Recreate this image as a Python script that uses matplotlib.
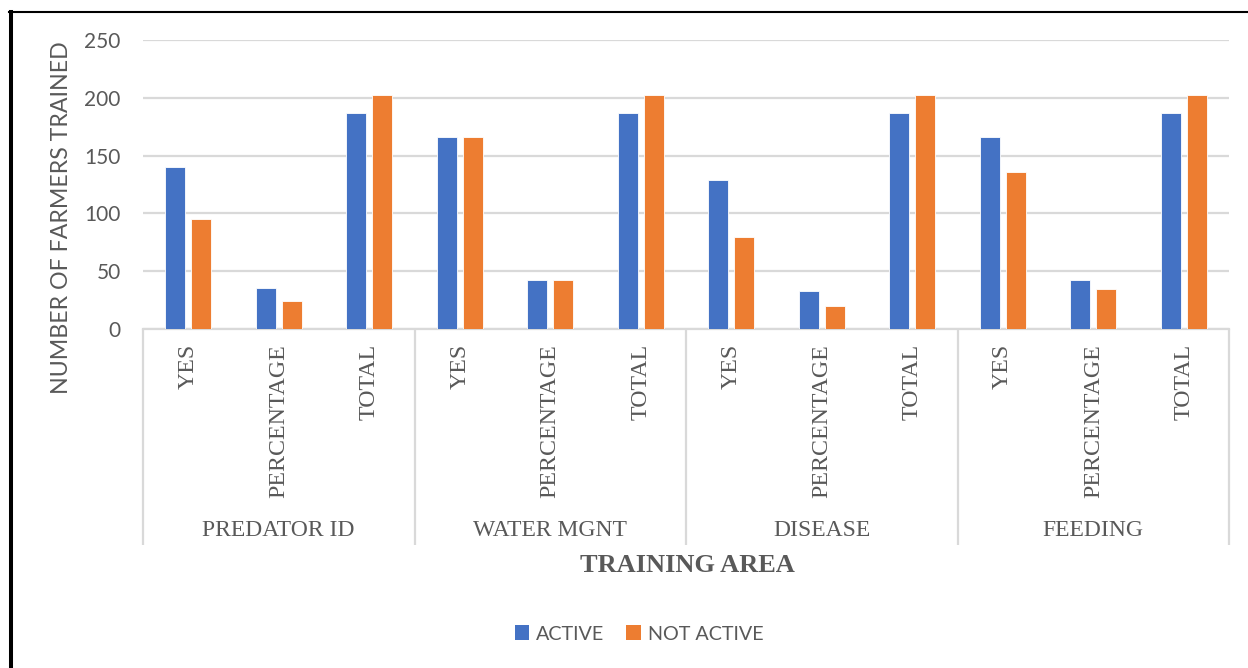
import numpy as np
import matplotlib
matplotlib.use("Agg")
import matplotlib.pyplot as plt
from matplotlib.lines import Line2D
from matplotlib.patches import Patch

areas = ["PREDATOR ID", "WATER MGNT", "DISEASE", "FEEDING"]
items = ["YES", "PERCENTAGE", "TOTAL"]
active = [140, 35.4, 187, 166, 42.0, 187, 129, 32.7, 187, 166, 42.0, 187]
not_active = [95, 24.0, 202, 166, 42.0, 202, 80, 20.3, 202, 136, 34.4, 202]

BLUE = "#4472C4"
ORANGE = "#ED7D31"
GRID = "#D9D9D9"
TEXT = "#595959"

W, H = 1248, 668
fig = plt.figure(figsize=(W / 100, H / 100), dpi=100)

# plot box in pixel terms
left, right, top, base = 143, 1229, 40, 329
ax = fig.add_axes([left / W, 1 - base / H, (right - left) / W, (base - top) / H])

n = len(active)
x = np.arange(n)
bw = 0.222
off = 0.143
ax.bar(x - off, active, bw, color=BLUE, edgecolor="white", linewidth=0.6, label="ACTIVE", zorder=3)
ax.bar(x + off, not_active, bw, color=ORANGE, edgecolor="white", linewidth=0.6, label="NOT ACTIVE", zorder=3)

ax.set_xlim(-0.5, n - 0.5)
ax.set_ylim(0, 250)
ax.set_yticks(range(0, 251, 50))
ax.yaxis.grid(True, color=GRID, linewidth=1.6, zorder=0)
ax.tick_params(axis="y", length=0, pad=16, labelsize=15, labelcolor=TEXT)
for lab in ax.get_yticklabels():
    lab.set_family("Lato")
ax.set_xticks([])
for s in ["left", "right", "top"]:
    ax.spines[s].set_visible(False)
ax.spines["bottom"].set_color(GRID)
ax.spines["bottom"].set_linewidth(1.6)
ax.set_axisbelow(True)

# two-level category axis
ph = base - top
tr = ax.get_xaxis_transform()
for i in range(n):
    ax.text(i, -15 / ph, items[i % 3], transform=tr, rotation=90, ha="center", va="top",
            fontsize=17.2, family="Liberation Serif", color=TEXT)
for g, name in enumerate(areas):
    ax.text(g * 3 + 1, -(530 - base) / ph, name, transform=tr, ha="center", va="center",
            fontsize=17, family="Liberation Serif", color=TEXT)
for b in np.arange(-0.5, n, 3):
    ax.plot([b, b], [0, -(545 - base) / ph], transform=tr, color=GRID, linewidth=1.6,
            clip_on=False, solid_capstyle="butt")

fig.text(687 / W, 1 - 566 / H, "TRAINING AREA", ha="center", va="center", fontsize=19,
         fontweight="bold", family="Liberation Serif", color=TEXT)
fig.text(62 / W, 1 - 218 / H, "NUMBER OF FARMERS TRAINED", rotation=90, ha="center", va="center",
         fontsize=16.7, family="Lato", color=TEXT)

handles = [Patch(facecolor=BLUE), Patch(facecolor=ORANGE)]
fig.legend(handles, ["ACTIVE", "NOT ACTIVE"], loc="center", bbox_to_anchor=(639 / W, 1 - 634 / H),
           ncol=2, frameon=False, handlelength=0.75, handleheight=0.75, handletextpad=0.35,
           columnspacing=1.1, prop={"family": "Lato", "size": 14.2}, labelcolor=TEXT)

# frame lines
fig.add_artist(Line2D([11 / W, 11 / W], [0, 1 - 12 / H], color="black", linewidth=2.9))
fig.add_artist(Line2D([9 / W, 1], [1 - 12 / H, 1 - 12 / H], color="black", linewidth=1.5))

fig.savefig("out.png", dpi=100, facecolor="white")
